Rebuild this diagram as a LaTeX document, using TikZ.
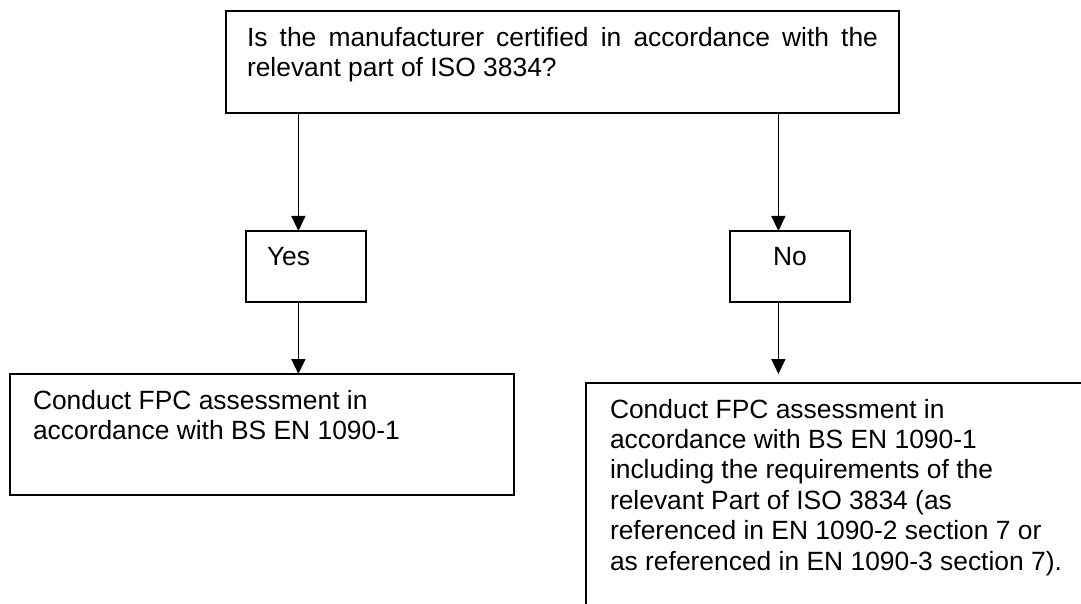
\documentclass[tikz,border=0pt]{standalone}
\usepackage{fontspec}
\setmainfont{Liberation Sans}
\usetikzlibrary{arrows.meta,positioning}
\tikzstyle{edge}  =[-{Triangle[length=7.5pt,width=7pt]},
                    line width=0.7pt]
\tikzstyle{block} =[rectangle, draw, line width=0.8pt,
                    anchor=north west, inner xsep=10.5pt,
                    inner ysep=8pt, outer sep=0pt,
                    font=\fontsize{13.2}{15.2}\selectfont]

\begin{document}
\begin{tikzpicture}[x=0.5pt,y=-0.5pt]
    \useasboundingbox (0,0) rectangle (1081,604);
    \clip (0,0) rectangle (1081,604);

    % question and the two answers
    \draw (226,11) node(q)[block]{\parbox[t][35pt][t]{315.5pt}{Is the
        manufacturer certified in accordance with the\linebreak
        relevant part of ISO 3834?}};
    \draw (246,231) node(yes)[block]{\parbox[t][19.5pt][t]{39pt}{Yes}};
    \draw (730,231) node(no)[block]{\parbox[t][19.5pt][t]{39pt}{\centering No}};

    % what to do
    \draw (10,374) node(fpc)[block,inner xsep=11.5pt]{\parbox[t][44.5pt][t]{229pt}{%
        Conduct FPC assessment in\\
        accordance with BS EN 1090-1}};
    \draw (586,383) node(fpciso)[block,inner xsep=12pt]{\parbox[t][150pt][t]{280pt}{%
        Conduct FPC assessment in\\
        accordance with BS EN 1090-1\\
        including the requirements of the\\
        relevant Part of ISO 3834 (as\\
        referenced in EN 1090-2 section 7 or\\
        as referenced in EN 1090-3 section 7).}};

    \coordinate (ly) at ([xshift=-3.8pt]yes.north);
    \coordinate (ry) at ([xshift=-5.8pt]no.north);

    \draw [edge] (q.south -| ly) to (ly);
    \draw [edge] (q.south -| ry) to (ry);
    \draw [edge] ([xshift=-3.8pt]yes.south) to (fpc.north -| ly);
    \draw [edge,shorten >=4.5pt] ([xshift=-5.8pt]no.south) to (fpciso.north -| ry);

\end{tikzpicture}
\end{document}
